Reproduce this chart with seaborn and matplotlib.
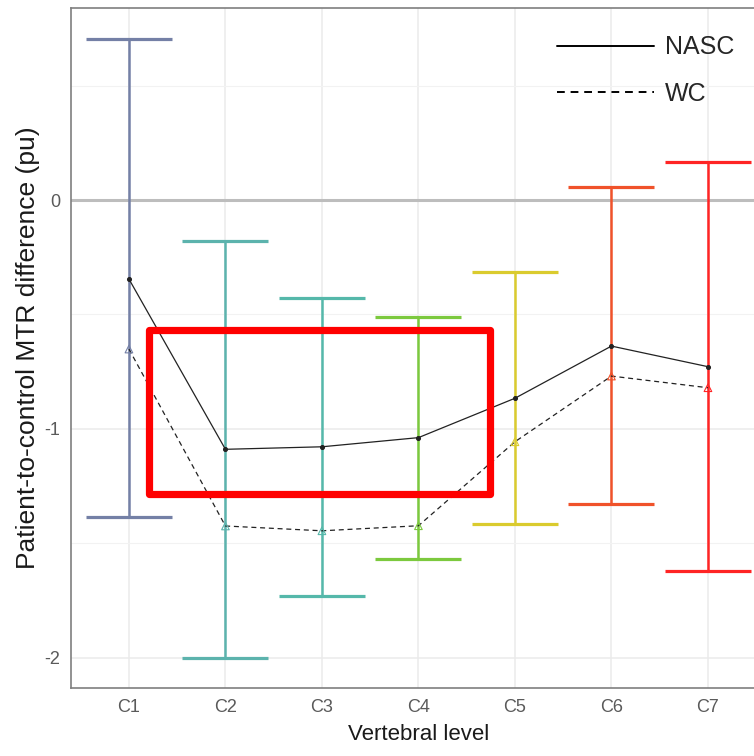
import matplotlib
matplotlib.use('Agg')
import matplotlib.pyplot as plt
from matplotlib.patches import Rectangle
from matplotlib.lines import Line2D
import pandas as pd
import seaborn as sns
import numpy as np

# values
levels = ['C1', 'C2', 'C3', 'C4', 'C5', 'C6', 'C7']
nasc = [-0.345, -1.089, -1.078, -1.038, -0.866, -0.638, -0.728]
wc = [-0.651, -1.424, -1.445, -1.423, -1.056, -0.769, -0.820]
ci_low = [-1.385, -2.000, -1.730, -1.570, -1.417, -1.330, -1.620]
ci_high = [0.703, -0.179, -0.427, -0.513, -0.315, 0.057, 0.166]
level_colors = ['#7480a6', '#5cb3ad', '#55b8aa', '#7cc93e', '#dacb2e', '#f0522a', '#ff2424']

# highlight box (data coords, x as category index)
box_x = [0.207, 3.746]
box_y = [-1.283, -0.568]

df = pd.DataFrame({
    'level': levels * 2,
    'diff': nasc + wc,
    'method': ['NASC'] * 7 + ['WC'] * 7,
})

sns.set_theme(style='whitegrid')
plt.rcParams['font.family'] = ['Liberation Sans', 'DejaVu Sans']
plt.rcParams['axes.unicode_minus'] = False

fig = plt.figure(figsize=(7.54, 7.56), dpi=100)
ax = fig.add_axes([0.0942, 0.0899, 0.9215, 0.8995])
ax.set_facecolor('white')

x = np.arange(len(levels))

# grid
ax.set_yticks([-2, -1, 0])
ax.set_yticks([-1.5, -0.5, 0.5], minor=True)
ax.grid(True, which='major', color='#ebebeb', lw=1.1, zorder=0)
ax.grid(True, which='minor', axis='y', color='#f2f2f2', lw=0.8, zorder=0)
ax.axhline(0, color='#bdbdbd', lw=2.2, zorder=1)

# error bars per level
for i in range(len(levels)):
    ax.errorbar(x[i], (ci_low[i] + ci_high[i]) / 2,
                yerr=[[(ci_high[i] - ci_low[i]) / 2], [(ci_high[i] - ci_low[i]) / 2]],
                fmt='none', ecolor=level_colors[i], elinewidth=1.8,
                capsize=31, capthick=2.3, zorder=2)

sns.lineplot(data=df, x='level', y='diff', style='method',
             dashes={'NASC': '', 'WC': (4, 3)}, color='#222222',
             lw=0.9, legend=False, ax=ax, zorder=3)

ax.scatter(x, nasc, s=7, color='#222222', zorder=4)
ax.scatter(x, wc, s=30, marker='^', facecolors='none',
           edgecolors=level_colors, linewidths=0.8, zorder=4)

ax.add_patch(Rectangle((box_x[0], box_y[0]), box_x[1] - box_x[0], box_y[1] - box_y[0],
                       fill=False, edgecolor='#ff0000', lw=5.2, joinstyle='round', zorder=5))

ax.set_xlim(-0.6, 6.6)
ax.set_ylim(-2.132, 0.839)
ax.set_xticks(x)
ax.set_xticklabels(levels)
ax.set_yticklabels(['-2', '-1', '0'])
ax.tick_params(axis='both', which='major', length=4, width=1, color='#555555',
               labelcolor='#5a5a5a', labelsize=13, pad=4)
ax.tick_params(axis='both', which='minor', length=0)

for s in ax.spines.values():
    s.set_color('#7f7f7f')
    s.set_linewidth(1.2)

ax.set_xlabel('Vertebral level', fontsize=16, color='#1a1a1a', labelpad=6)
ax.set_ylabel('Patient-to-control MTR difference (pu)', fontsize=19, color='#1a1a1a', labelpad=3)

handles = [Line2D([], [], color='black', lw=1.4),
           Line2D([], [], color='black', lw=1.4, ls=(0, (4, 3)))]
fig.legend(handles, ['NASC', 'WC'], loc='upper left', bbox_to_anchor=(0.7083, 0.983),
           frameon=False, fontsize=18, handlelength=3.9, handletextpad=0.45,
           labelspacing=0.9)

fig.savefig('out.png', dpi=100)
